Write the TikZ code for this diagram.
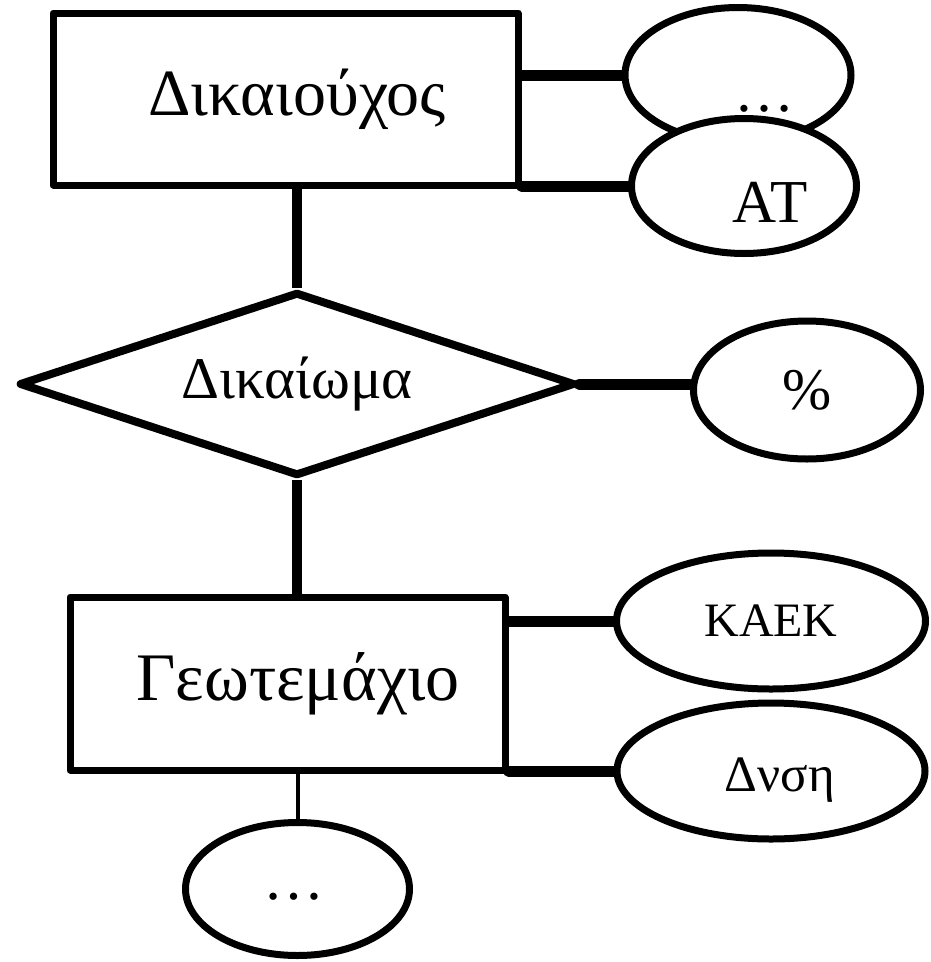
\documentclass[tikz,border=0pt]{standalone}
\usepackage{fontspec}
\setmainfont{Liberation Serif}
\usepackage{tikz}
\usetikzlibrary{shapes.geometric, positioning, calc}
\tikzset{every picture/.append style={line join=round}}
\newcommand{\txtsize}[1]{\fontsize{#1}{#1}\selectfont}

\begin{document}
\begin{tikzpicture}[x=1pt, y=-1pt,
    entity/.style={draw, rectangle, line width=7pt, minimum height=172pt, inner sep=0pt},
    relation/.style={draw, diamond, shape aspect=3, line width=8pt, minimum width=556pt, minimum height=184pt, inner sep=0pt},
    attr/.style={draw, ellipse, fill=white, line width=7pt, minimum height=135pt, inner sep=0pt},
    link/.style={line width=11pt, line cap=round},
    stem/.style={line width=10.5pt}]
    \useasboundingbox (0,0) rectangle (930,962);

    % Entity Dikaiouxos and its attributes
    \node[entity, minimum width=465pt, font=\txtsize{66pt}] (dik) at (285.5,99) {\hspace*{23pt}Δικαιούχος};
    \node[attr, minimum width=226pt] (dikmore) at (738,75) {};
    \node[attr, minimum width=225pt] (at) at (744,186) {};
    \node[font=\txtsize{61pt}] (atlbl) at (770,202) {AT};
    \node[font=\txtsize{60pt}] (dikdots) at (764,109) {…};
    \draw[link] (dikmore.west -| dik.east) -- (dikmore.west);
    \draw[link] (at.west -| dik.east) -- (at.west);

    % Relationship Dikaioma
    \node[relation, font=\txtsize{59pt}] (rel) at (297,384) {Δικαίωμα};
    \node[attr, minimum width=227pt, minimum height=138pt, font=\txtsize{59pt}] (pct) at (807,390) {\%};
    \draw[stem] (rel.north) -- (rel.north |- dik.south);
    \draw[link] (rel.east) -- (rel.east -| pct.west);

    % Entity Geotemaxio and its attributes
    \node[entity, minimum width=435pt, minimum height=173pt, font=\txtsize{68pt}] (geo) at (287.5,683.5) {\hspace*{21pt}Γεωτεμάχιο};
    \node[attr, minimum width=309pt, minimum height=136pt, font=\txtsize{48pt}] (kaek) at (771,621) {KAEK};
    \node[attr, minimum width=308pt, minimum height=136pt] (dnsi) at (771,771) {};
    \node[font=\txtsize{51pt}] (dnsilbl) at (780,780) {Δνση};
    \node[attr, minimum width=224pt, minimum height=133pt] (geomore) at (297.5,889) {};
    \node[font=\txtsize{61pt}] (geodots) at (294,897) {…};
    \draw[stem] (rel.south) -- (rel.south |- geo.north);
    \draw[link] (geo.east |- kaek.west) -- (kaek.west);
    \draw[link] (geo.east |- dnsi.west) -- (dnsi.west);
    \draw[line width=4pt] (geomore.north) -- (geomore.north |- geo.south);
\end{tikzpicture}
\end{document}
